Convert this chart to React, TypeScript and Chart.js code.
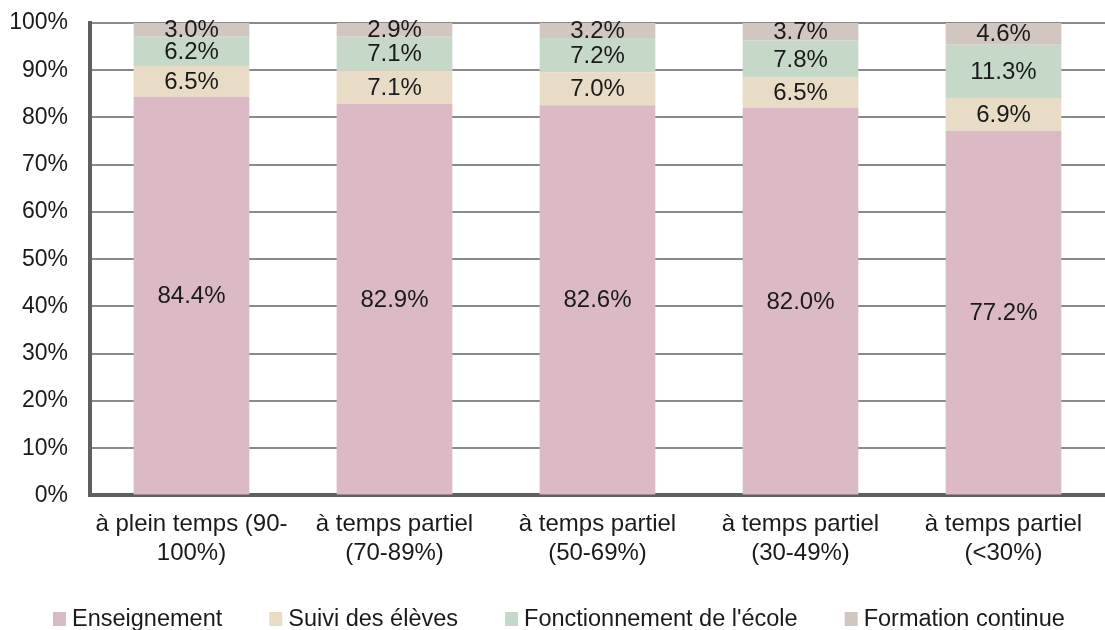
import React, { useEffect, useRef } from "react";
import { Chart, registerables } from "chart.js";

Chart.register(...registerables);

const categories: string[][] = [
  ["à plein temps (90-", "100%)"],
  ["à temps partiel", "(70-89%)"],
  ["à temps partiel", "(50-69%)"],
  ["à temps partiel", "(30-49%)"],
  ["à temps partiel", "(<30%)"],
];
const enseignement = [84.4, 82.9, 82.6, 82.0, 77.2];
const suivi = [6.5, 7.1, 7.0, 6.5, 6.9];
const fonctionnement = [6.2, 7.1, 7.2, 7.8, 11.3];
const formation = [3.0, 2.9, 3.2, 3.7, 4.6];
const seriesNames = ["Enseignement", "Suivi des élèves", "Fonctionnement de l'école", "Formation continue"];
const seriesColors = ["#dbbac6", "#e9dcc7", "#c6d9c9", "#d2c6c1"];
const yTicks = [0, 10, 20, 30, 40, 50, 60, 70, 80, 90, 100];

const FONT = "'Liberation Sans', Arial, sans-serif";
const TEXT = "#1a1a1a";

const labelPlugin = {
  id: "segLabels",
  afterDatasetsDraw(chart: any) {
    const ctx = chart.ctx;
    ctx.save();
    ctx.font = `24px ${FONT}`;
    ctx.fillStyle = TEXT;
    ctx.textAlign = "center";
    ctx.textBaseline = "middle";
    chart.data.datasets.forEach((ds: any, di: number) => {
      const meta = chart.getDatasetMeta(di);
      meta.data.forEach((bar: any, i: number) => {
        const v = ds.data[i];
        const y = (bar.y + bar.base) / 2;
        ctx.fillText(v.toFixed(1) + "%", bar.x, y + 1);
      });
    });
    ctx.restore();
  },
};

const legendPlugin = {
  id: "customLegend",
  afterDraw(chart: any) {
    const ctx = chart.ctx;
    ctx.save();
    ctx.font = `23.5px ${FONT}`;
    ctx.textBaseline = "middle";
    ctx.textAlign = "left";
    let x = 53;
    const y = 619;
    chart.data.datasets.forEach((ds: any) => {
      ctx.fillStyle = ds.backgroundColor;
      ctx.fillRect(x, y - 7, 13, 14);
      ctx.fillStyle = TEXT;
      ctx.fillText(ds.label, x + 19, y + 1);
      const w = ctx.measureText(ds.label).width;
      x += 19 + w + 47;
    });
    ctx.restore();
  },
};

export default function App() {
  const ref = useRef<HTMLCanvasElement | null>(null);
  useEffect(() => {
    if (!ref.current) return;
    const dataArrays = [enseignement, suivi, fonctionnement, formation];
    const chart = new Chart(ref.current, {
      type: "bar",
      data: {
        labels: categories as any,
        datasets: dataArrays.map((d, i) => ({
          label: seriesNames[i],
          data: d,
          backgroundColor: seriesColors[i],
          borderWidth: 0,
          categoryPercentage: 1,
          barPercentage: 0.57,
        })),
      },
      options: {
        animation: false,
        responsive: false,
        maintainAspectRatio: false,
        layout: { padding: { top: 23, right: 0, bottom: 47, left: 0 } },
        plugins: {
          legend: { display: false },
          tooltip: { enabled: false },
        },
        scales: {
          x: {
            stacked: true,
            afterFit: (axis: any) => {
              axis.paddingLeft = 0;
              axis.paddingRight = 0;
            },
            grid: { display: false, drawTicks: false },
            border: { display: true, color: "#5f5f5f", width: 4 },
            ticks: {
              color: TEXT,
              font: { size: 24, family: FONT },
              padding: 15,
              maxRotation: 0,
              autoSkip: false,
            },
          },
          y: {
            stacked: true,
            min: 0,
            max: 100,
            afterBuildTicks: (axis: any) => {
              axis.ticks = yTicks.map((v) => ({ value: v }));
            },
            afterFit: (axis: any) => {
              axis.width = 90;
              axis.paddingTop = 0;
              axis.paddingBottom = 0;
            },
            grid: { color: "#8a8a8a", lineWidth: 2, drawTicks: false },
            border: { display: true, color: "#5f5f5f", width: 4 },
            ticks: {
              color: TEXT,
              font: { size: 23, family: FONT },
              padding: 22,
              callback: (v: any) => v + "%",
            },
          },
        },
      },
      plugins: [labelPlugin, legendPlugin],
    });
    return () => chart.destroy();
  }, []);
  return (
    <div style={{ position: "fixed", left: 0, top: 0, width: 1105, height: 630, background: "#fff" }}>
      <canvas ref={ref} width={1105} height={630} />
    </div>
  );
}
